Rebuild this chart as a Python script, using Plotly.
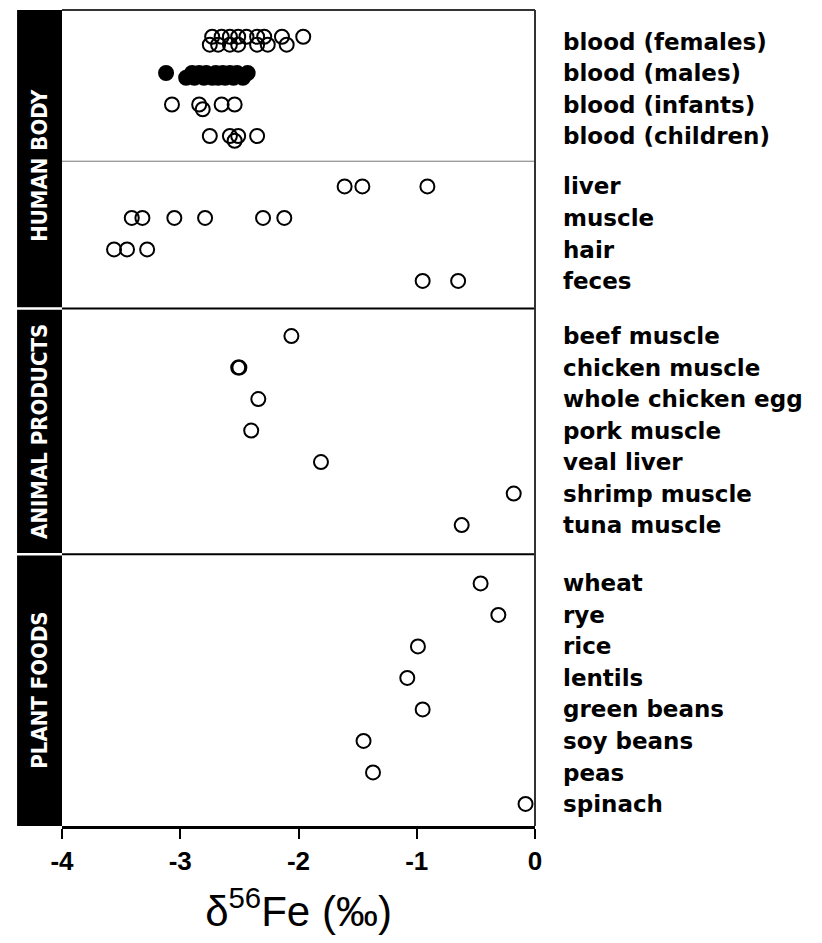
import plotly.graph_objects as go

# ---------------- data (delta56Fe, permil) ----------------
blood_females = [-2.75, -2.73, -2.68, -2.65, -2.58, -2.58, -2.51, -2.51, -2.44,
                 -2.35, -2.35, -2.29, -2.26, -2.14, -2.10, -1.96]
blood_males = [-3.12, -2.95, -2.90, -2.88, -2.84, -2.80, -2.78, -2.73, -2.70,
               -2.68, -2.64, -2.62, -2.58, -2.55, -2.52, -2.47, -2.43]
blood_infants = [-3.07, -2.84, -2.81, -2.65, -2.54]
blood_children = [-2.75, -2.58, -2.54, -2.51, -2.35]
liver = [-1.61, -1.46, -0.91]
muscle = [-3.41, -3.32, -3.05, -2.79, -2.30, -2.12]
hair = [-3.56, -3.45, -3.28]
feces = [-0.95, -0.65]

blood_labels = ["blood (females)", "blood (males)", "blood (infants)", "blood (children)"]
tissue_labels = ["liver", "muscle", "hair", "feces"]

animal_labels = ["beef muscle", "chicken muscle", "whole chicken egg", "pork muscle",
                 "veal liver", "shrimp muscle", "tuna muscle"]
animal_values = [[-2.06], [-2.51, -2.50], [-2.34], [-2.40], [-1.81], [-0.18], [-0.62]]

plant_labels = ["wheat", "rye", "rice", "lentils", "green beans", "soy beans", "peas", "spinach"]
plant_values = [[-0.46], [-0.31], [-0.99], [-1.08], [-0.95], [-1.45], [-1.37], [-0.08]]

group_names = ["HUMAN BODY", "ANIMAL PRODUCTS", "PLANT FOODS"]
x_ticks = [-4, -3, -2, -1, 0]

# ---------------- styling / layout constants ----------------
# vertical scatter (jitter) of overlapping blood points, in row units
U, D, M = -0.15, 0.10, 0.0
JITTER = {
    "blood (females)": [D, U, D, U, U, D, U, D, U, U, D, U, D, U, D, U],
    "blood (males)": [M, 0.15, M, 0.15, M, 0.15, M, 0.15, M, 0.15, M, 0.15, M, 0.15, M, 0.15, M],
    "blood (infants)": [M, M, 0.15, M, M],
    "blood (children)": [M, M, 0.15, M, M],
}

blood_values = [blood_females, blood_males, blood_infants, blood_children]
tissue_values = [liver, muscle, hair, feces]

blocks = [
    (blood_labels, blood_values, [False, True, False, False]),
    (tissue_labels, tissue_values, [False] * 4),
    (animal_labels, animal_values, [False] * 7),
    (plant_labels, plant_values, [False] * 8),
]
gaps_after = [0.6, 0.75, 0.85]

pos = 1.0
row_pos, row_lab = [], []
block_ranges = []
traces = []
for bi, (labs, vals, filled) in enumerate(blocks):
    start = pos
    for lab, v, f in zip(labs, vals, filled):
        offs = JITTER.get(lab, [0.0] * len(v))
        traces.append(go.Scatter(
            x=v, y=[pos + o for o in offs], mode="markers",
            marker=dict(size=14, symbol="circle",
                        color="black" if f else "rgba(0,0,0,0)",
                        line=dict(color="black", width=2)),
            showlegend=False, hoverinfo="x"))
        row_pos.append(pos)
        row_lab.append(lab)
        pos += 1
    block_ranges.append((start, pos - 1))
    if bi < len(gaps_after):
        pos += gaps_after[bi]

Y_MAX = 25.9

fig = go.Figure(traces)

bounds = [(block_ranges[i][1] + block_ranges[i + 1][0]) / 2 for i in range(3)]
shapes = []
shapes.append(dict(type="line", xref="x", yref="y", x0=-4, x1=0, y0=bounds[0], y1=bounds[0],
                   line=dict(color="#777777", width=1)))
for b in bounds[1:]:
    shapes.append(dict(type="line", xref="x", yref="y", x0=-4, x1=0, y0=b, y1=b,
                       line=dict(color="black", width=2)))
shapes.append(dict(type="line", xref="paper", yref="paper", x0=0, x1=1, y0=1, y1=1,
                   line=dict(color="#333333", width=2)))
shapes.append(dict(type="line", xref="paper", yref="paper", x0=1, x1=1, y0=0, y1=1,
                   line=dict(color="#333333", width=2)))

COL_X0 = -0.095
g_edges = [0.0, bounds[1], bounds[2], Y_MAX]
annotations = []
for gi, name in enumerate(group_names):
    y0 = g_edges[gi] + (0.04 if gi > 0 else 0)
    y1 = g_edges[gi + 1] - (0.04 if gi < 2 else 0)
    shapes.append(dict(type="rect", xref="paper", yref="y", x0=COL_X0, x1=0, y0=y0, y1=y1,
                       fillcolor="black", line=dict(width=0), layer="above"))
    annotations.append(dict(xref="paper", yref="y", x=COL_X0 / 2,
                            y=(g_edges[gi] + g_edges[gi + 1]) / 2,
                            yshift=-6 if gi == 0 else 0,
                            text=name, textangle=-90, showarrow=False,
                            font=dict(family="DejaVu Sans Condensed, Liberation Sans Narrow, DejaVu Sans",
                                      size=22, color="white", weight="bold"),
                            xanchor="center", yanchor="middle"))

fig.update_layout(
    width=822, height=943,
    margin=dict(l=62, r=287, t=10, b=117),
    plot_bgcolor="white", paper_bgcolor="white",
    shapes=shapes, annotations=annotations,
    xaxis=dict(range=[-4, 0], tickvals=x_ticks, ticktext=[str(t) for t in x_ticks],
               showgrid=False, zeroline=False, showline=True, linecolor="black", linewidth=3,
               ticks="outside", ticklen=10, tickwidth=2, tickcolor="black",
               tickfont=dict(family="Liberation Sans, Arial", size=26, color="black", weight="bold"),
               title=dict(text="δ<sup>56</sup>Fe (‰)", standoff=22,
                          font=dict(family="Liberation Sans, Arial", size=42, color="black"))),
    yaxis=dict(range=[Y_MAX, 0], tickvals=row_pos, ticktext=row_lab, side="right",
               showgrid=False, zeroline=False, showline=False, ticks="",
               ticklabelstandoff=27,
               tickfont=dict(family="DejaVu Sans", size=23, color="black", weight="bold")),
)

fig.write_html("out.html")
